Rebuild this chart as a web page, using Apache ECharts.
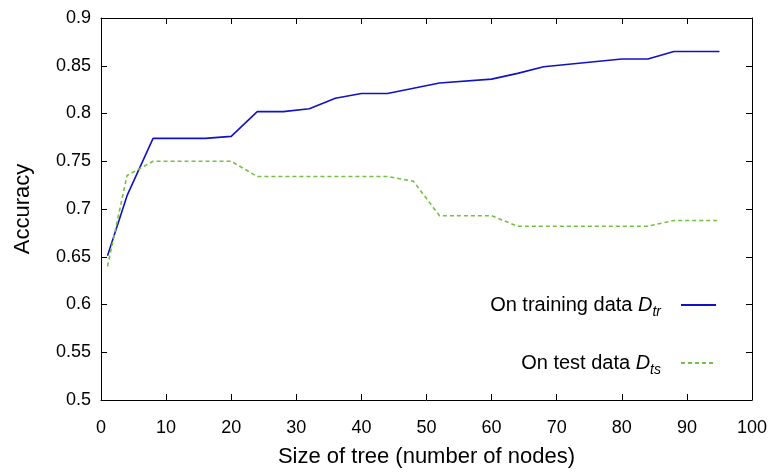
<!DOCTYPE html>
<html>
<head>
<meta charset="utf-8">
<script src="https://cdn.jsdelivr.net/npm/echarts@6/dist/echarts.min.js"></script>
<style>
html,body{margin:0;padding:0;background:#fff;}
#chart{width:773px;height:473px;}
</style>
</head>
<body>
<div id="chart"></div>
<script>
// ---- data ----
const trainX = [1, 4, 8, 16, 20, 24, 28, 32, 36, 40, 44, 52, 60, 64, 68, 80, 84, 88, 95];
const trainY = [0.651, 0.714, 0.774, 0.774, 0.776, 0.802, 0.802, 0.805, 0.816, 0.821, 0.821, 0.832, 0.836, 0.842, 0.849, 0.857, 0.857, 0.865, 0.865];
const testX = [1, 4, 8, 20, 24, 44, 48, 52, 60, 64, 84, 88, 95];
const testY = [0.640, 0.735, 0.750, 0.750, 0.734, 0.734, 0.729, 0.693, 0.693, 0.682, 0.682, 0.688, 0.688];
const xTickLabels = ['0','10','20','30','40','50','60','70','80','90','100'];
const yTickLabels = ['0.5','0.55','0.6','0.65','0.7','0.75','0.8','0.85','0.9'];
const seriesNames = ['train', 'test'];

const FONT = 'Liberation Sans, Arial, sans-serif';
const chart = echarts.init(document.getElementById('chart'), null, {renderer: 'canvas'});

function pairs(xs, ys) { return xs.map((x, i) => [x, ys[i]]); }

const legendRich = {
  n: {fontSize: 20, fontFamily: FONT, color: '#000', lineHeight: 28, verticalAlign: 'middle'},
  d: {fontSize: 20, fontFamily: FONT, color: '#000', fontStyle: 'italic', lineHeight: 28, verticalAlign: 'middle'},
  s: {fontSize: 14, fontFamily: FONT, color: '#000', fontStyle: 'italic', lineHeight: 28, verticalAlign: 'bottom', padding: [0, 15, 0, 0]}
};

function legendFor(name, top) {
  return {
    right: 56,
    top: top,
    padding: 0,
    orient: 'horizontal',
    align: 'right',
    itemWidth: 35,
    itemHeight: 14,
    data: [name],
    itemStyle: {opacity: 0},
    formatter: function (n) {
      if (n === 'train') return '{n|On training data }{d|D}{s|tr}';
      return '{n|On test data }{d|D}{s|ts}';
    },
    textStyle: {rich: legendRich}
  };
}

const axisBase = {
  type: 'value',
  axisLine: {show: true, onZero: false, lineStyle: {color: '#000', width: 1}},
  axisTick: {show: true, inside: true, length: 6, lineStyle: {color: '#000', width: 1}},
  splitLine: {show: false}
};

chart.setOption({
  animation: false,
  backgroundColor: '#fff',
  grid: {left: 101, right: 21, top: 18, bottom: 67, containLabel: false},
  legend: [legendFor(seriesNames[0], 295), legendFor(seriesNames[1], 353)],
  xAxis: [
    Object.assign({}, axisBase, {
      position: 'bottom', min: 0, max: 100, interval: 10,
      axisLabel: {
        margin: 19, fontSize: 18, fontFamily: FONT, color: '#000',
        formatter: function (v) { return xTickLabels[Math.round(v / 10)]; }
      },
      name: 'Size of tree (number of nodes)',
      nameLocation: 'middle', nameGap: 46,
      nameTextStyle: {fontSize: 22, fontFamily: FONT, color: '#000'}
    }),
    Object.assign({}, axisBase, {
      position: 'top', min: 0, max: 100, interval: 10,
      axisLabel: {show: false}
    })
  ],
  yAxis: [
    Object.assign({}, axisBase, {
      position: 'left', min: 0.5, max: 0.9, interval: 0.05,
      axisLabel: {
        margin: 10, fontSize: 18, fontFamily: FONT, color: '#000',
        formatter: function (v) { return yTickLabels[Math.round((v - 0.5) / 0.05)]; }
      },
      name: 'Accuracy',
      nameLocation: 'middle', nameGap: 67,
      nameTextStyle: {fontSize: 22, fontFamily: FONT, color: '#000'}
    }),
    Object.assign({}, axisBase, {
      position: 'right', min: 0.5, max: 0.9, interval: 0.05,
      axisLabel: {show: false}
    })
  ],
  series: [
    {
      name: 'train', type: 'line', xAxisIndex: 0, yAxisIndex: 0,
      data: pairs(trainX, trainY),
      symbol: 'none', smooth: false,
      lineStyle: {color: '#1212c4', width: 1.6, type: 'solid'},
      itemStyle: {color: '#1212c4'}
    },
    {
      name: 'test', type: 'line', xAxisIndex: 0, yAxisIndex: 0,
      data: pairs(testX, testY),
      symbol: 'none', smooth: false,
      lineStyle: {color: '#74c043', width: 1.6, type: [4, 3]},
      itemStyle: {color: '#74c043'}
    }
  ]
});
</script>
</body>
</html>
